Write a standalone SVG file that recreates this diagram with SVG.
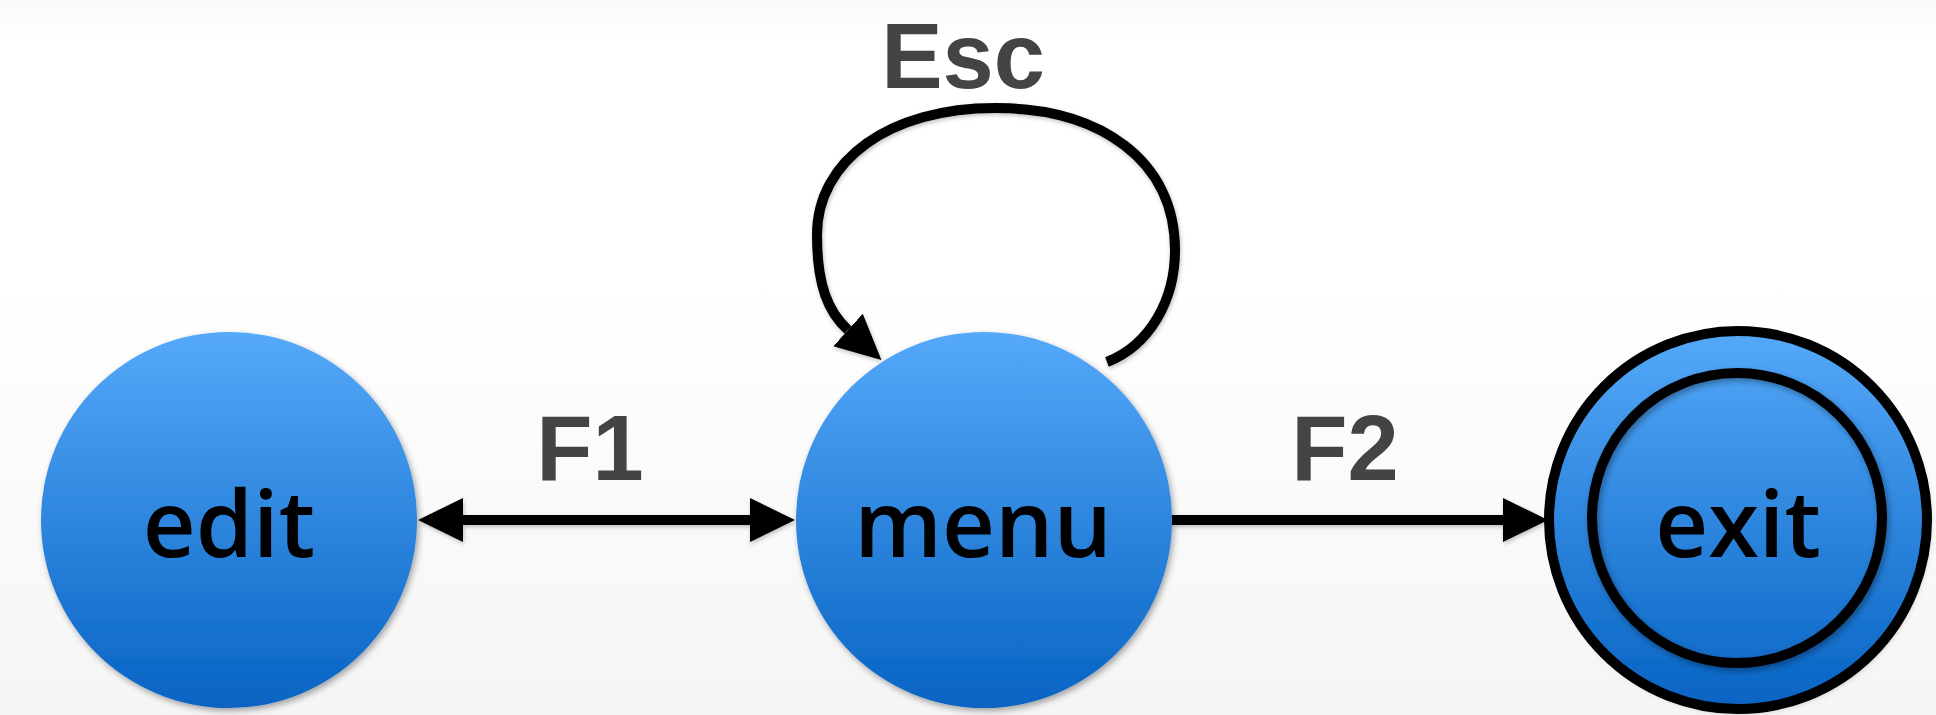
<svg xmlns="http://www.w3.org/2000/svg" width="1936" height="715" viewBox="0 0 1936 715">
  <style>
    .node { fill: url(#blue); filter: url(#shadow); }
    .ring { fill: none; stroke: #000; stroke-width: 10; }
    .nlabel { font-family: "Open Sans", "DejaVu Sans", sans-serif; font-weight: 600; font-size: 92px; fill: #000; text-anchor: middle; }
    .elabel { font-family: "Liberation Sans", Arial, sans-serif; font-weight: bold; font-size: 92px; fill: #444; text-anchor: middle; }
    .edge { fill: none; stroke: #000; stroke-width: 10; stroke-linecap: butt; filter: url(#lshadow); }
  </style>
  <defs>
    <linearGradient id="bg" x1="0" y1="0" x2="0" y2="1">
      <stop offset="0" stop-color="#f9f9f9"/>
      <stop offset="0.06" stop-color="#ffffff"/>
      <stop offset="0.4" stop-color="#ffffff"/>
      <stop offset="1" stop-color="#f5f5f5"/>
    </linearGradient>
    <linearGradient id="blue" x1="0" y1="0" x2="0" y2="1">
      <stop offset="0" stop-color="#55a9f9"/>
      <stop offset="1" stop-color="#0763c3"/>
    </linearGradient>
    <filter id="shadow" x="-10%" y="-10%" width="125%" height="125%">
      <feDropShadow dx="2" dy="3" stdDeviation="3" flood-color="#000" flood-opacity="0.35"/>
    </filter>
    <filter id="lshadow" filterUnits="userSpaceOnUse" x="0" y="0" width="1936" height="715">
      <feDropShadow dx="1" dy="2" stdDeviation="2" flood-color="#000" flood-opacity="0.25"/>
    </filter>
    <marker id="arrow" markerUnits="userSpaceOnUse" markerWidth="46" markerHeight="46" refX="0" refY="22" orient="auto-start-reverse" viewBox="0 0 46 44">
      <path d="M0,0 L45,22 L0,44 z" fill="#000"/>
    </marker>
  </defs>

  <rect x="0" y="0" width="1936" height="715" fill="url(#bg)"/>

  <g id="connectors">
    <path class="edge" d="M463,520 L750,520" marker-start="url(#arrow)" marker-end="url(#arrow)"/>
    <path class="edge" d="M1172,520 L1503,520" marker-end="url(#arrow)"/>
    <path class="edge" d="M1107,362 C1150,345 1175,300 1175,250 C1175,160 1100,108 995,108 C890,108 817,160 817,235 C817,285 828,312 848,330" marker-end="url(#arrow)"/>
  </g>

  <g id="node-edit">
    <circle class="node" cx="229" cy="520" r="188"/>
    <text class="nlabel" x="229" y="557">edit</text>
  </g>

  <g id="node-menu">
    <circle class="node" cx="984" cy="520" r="188"/>
    <text class="nlabel" x="983" y="557">menu</text>
  </g>

  <g id="node-exit">
    <circle class="node" cx="1738" cy="520" r="189"/>
    <circle class="ring" cx="1738" cy="520" r="189"/>
    <circle class="ring" cx="1737" cy="518" r="145" filter="url(#shadow)"/>
    <text class="nlabel" x="1738" y="557">exit</text>
  </g>

  <g id="labels">
    <text class="elabel" x="590" y="480">F1</text>
    <text class="elabel" x="1345" y="480">F2</text>
    <text class="elabel" x="963" y="88">Esc</text>
  </g>
</svg>
